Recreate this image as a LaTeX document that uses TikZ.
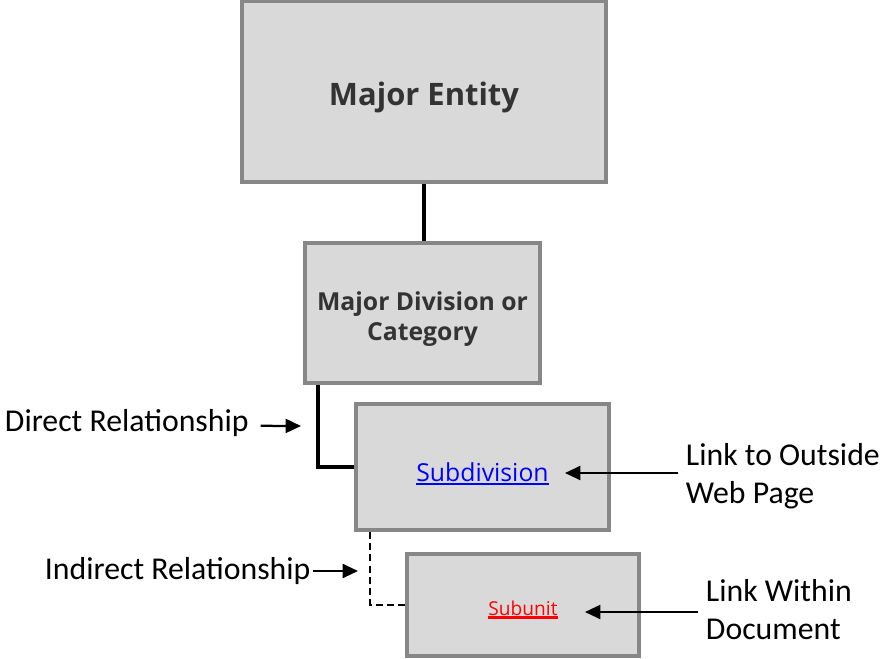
\documentclass[tikz,border=0pt]{standalone}
\usepackage{fontspec}
\usepackage{xcolor}
\usepackage{calc}
\usetikzlibrary{arrows.meta}
\setmainfont{Carlito}
\newfontfamily\boxfont{Open Sans}
\definecolor{boxfill}{HTML}{D9D9D9}
\definecolor{boxline}{HTML}{878787}
\definecolor{linkblue}{HTML}{0000FF}
\definecolor{linkred}{HTML}{FF0000}
\newlength\linkwd
\newcommand{\linkline}[3]{\settowidth{\linkwd}{#3}\rlap{\rule[-#2]{\linkwd}{#1}}#3}
\tikzset{
  unit/.style={draw=boxline, fill=boxfill, line width=2.6pt, inner sep=0pt, align=center, text=black!80},
  lbl/.style={font=\fontsize{22.6}{27}\selectfont, align=left},
  arr/.style={-{Triangle[length=11pt,width=10pt]}, line width=1.6pt},
  rel/.style={line width=2.8pt}
}

\begin{document}
\begin{tikzpicture}[x=0.025cm,y=-0.025cm]
    \useasboundingbox (0,0) rectangle (880,658);
      % boxes
      \node[unit, minimum width=9.1cm, minimum height=4.52cm,
        font=\boxfont\bfseries\fontsize{22}{26}\selectfont] (ent) at (424,91.5)
        {\raisebox{0pt}[19.2pt][0pt]{Major Entity}};
      \node[unit, minimum width=5.87cm, minimum height=3.5cm,
        font=\boxfont\bfseries\fontsize{17.6}{21.5}\selectfont] (div) at (422.5,313)
        {\raisebox{0pt}[39.8pt][0pt]{\begin{tabular}[b]{@{}c@{}}Major Division or\\Category\end{tabular}}};
      \node[unit, minimum width=6.32cm, minimum height=3.15cm,
        font=\boxfont\fontsize{17.6}{20}\selectfont] (subd) at (482.5,467)
        {\raisebox{0pt}[20pt][0pt]{\textcolor{linkblue}{\linkline{1.4pt}{2.6pt}{Subdivision}}}};
      \node[unit, minimum width=5.8cm, minimum height=2.55cm,
        font=\boxfont\fontsize{13.6}{16}\selectfont] (subu) at (523,605)
        {\raisebox{0pt}[15.6pt][0pt]{\textcolor{linkred}{\linkline{2pt}{2.2pt}{Subunit}}}};
      % relationships
      \draw[rel] (ent.south) -- (ent.south |- div.north);
      \draw[rel] ([xshift=0.38cm]div.south west) |- (subd.west);
      \draw[line width=1.6pt, dashed, dash pattern=on 5pt off 3pt] ([xshift=0.4cm]subd.south west) |- (subu.west);
      % legend
      \node[lbl, anchor=west] (direct) at (0,423) {Direct Relationship};
      \coordinate (directtip) at (301,426);
      \draw[arr] ([xshift=5pt,yshift=-2pt]direct.east) -- (directtip);
      \node[lbl, anchor=west] (indirect) at (40,571) {Indirect Relationship};
      \coordinate (indirecttip) at (358,571);
      \draw[arr] ([xshift=-2pt]indirect.east) -- (indirecttip);
      \node[lbl, anchor=west] (outside) at (681,476) {Link to Outside\\Web Page};
      \coordinate (outsidetip) at (565,473);
      \draw[arr] ([xshift=-2pt]outside.west |- outsidetip) -- (outsidetip);
      \node[lbl, anchor=west] (within) at (701,610) {Link Within\\Document};
      \coordinate (withintip) at (585,612);
      \draw[arr] ([xshift=-2pt]within.west |- withintip) -- (withintip);
    \end{tikzpicture}
\end{document}
